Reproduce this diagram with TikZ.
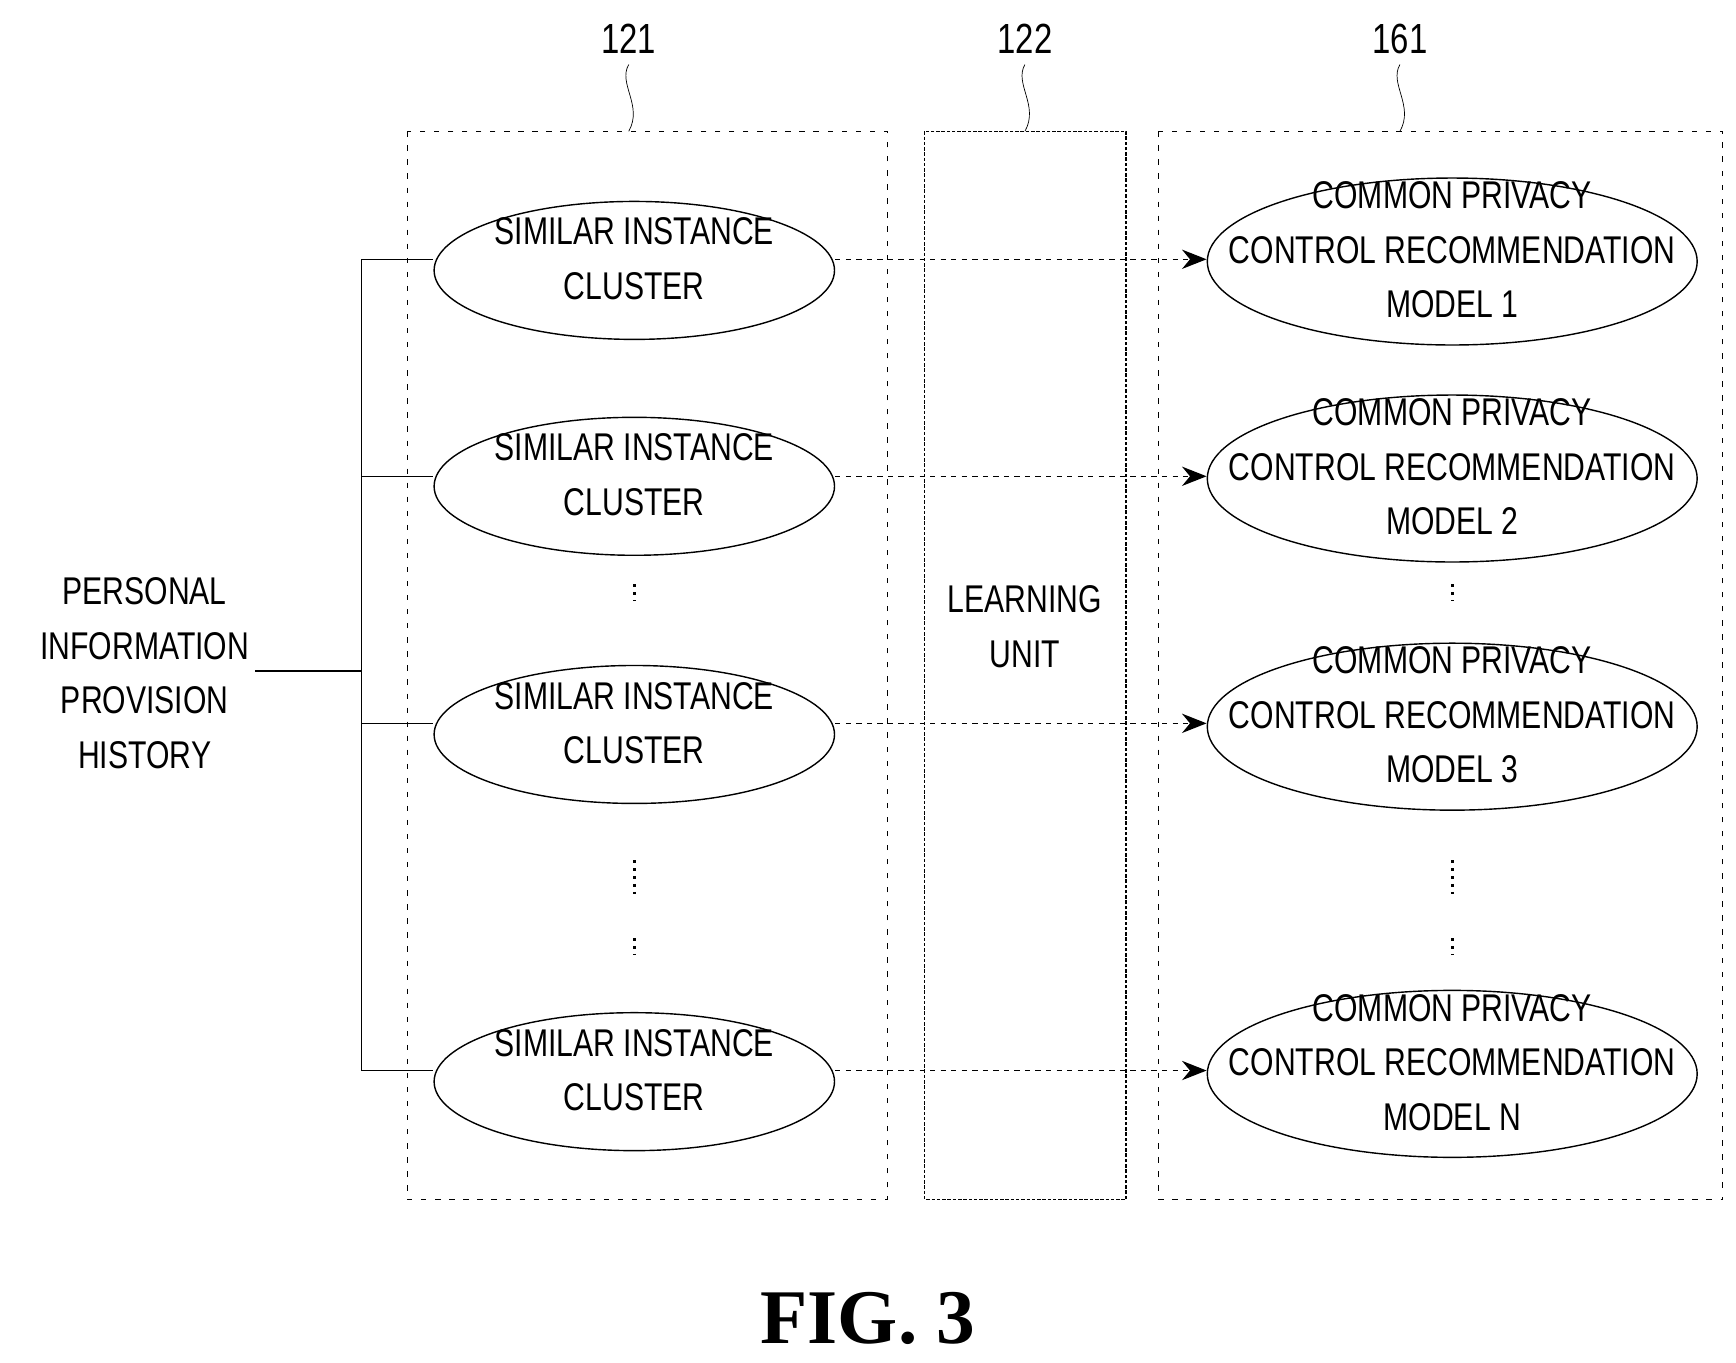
\documentclass[tikz,border=0pt]{standalone}
\usepackage{fontspec}
\setmainfont{Liberation Sans}[FakeStretch=0.78]
\newfontfamily\figfont{Liberation Serif}
\usetikzlibrary{arrows.meta,shapes.geometric}
\newcommand{\etext}[1]{\makebox[0pt]{\smash{\begin{tabular}{@{}c@{}}#1\end{tabular}}}}
\tikzset{
  clus/.style={draw, ellipse, thick, inner sep=0pt, minimum width=8.01cm, minimum height=2.76cm, font=\fontsize{22}{31}\selectfont},
  mdl/.style={draw, ellipse, thick, inner sep=0pt, minimum width=9.8cm, minimum height=3.34cm, font=\fontsize{22}{31}\selectfont},
  box/.style={draw, dashed, dash pattern=on 3pt off 5pt},
  lbl/.style={font=\fontsize{24}{28}\selectfont},
  vdots/.style={line width=1.5pt, dash pattern=on 1.5pt off 3pt}
}
\begin{document}
\begin{tikzpicture}[x=0.02226cm,y=-0.02226cm]
        \useasboundingbox (0,0) rectangle (1560,1224);

        \draw [box] (366,118) rectangle (797,1078);
        \draw [thick, dash pattern=on 2pt off 1pt] (831,118) rectangle (1012,1078);
        \draw [box] (1041,118) rectangle (1548,1078);

        \node[lbl] (l121) at (565,35) {121};
        \node[lbl] (l122) at (921,35) {122};
        \node[lbl] (l161) at (1258,35) {161};
        \draw (565,58) .. controls (555,75) and (578,95) .. (565,118);
        \draw (921,58) .. controls (911,75) and (934,95) .. (921,118);
        \draw (1258,58) .. controls (1248,75) and (1271,95) .. (1258,118);

        \node[align=center, font=\fontsize{22}{31}\selectfont] (hist) at (130,605) {PERSONAL\\INFORMATION\\PROVISION\\HISTORY};
        \node[align=center, font=\fontsize{22}{31}\selectfont] (learn) at (921,563) {LEARNING\\UNIT};

        \node[clus] (s1) at (570,243) {\etext{SIMILAR INSTANCE\\CLUSTER}};
        \node[clus] (s2) at (570,437) {\etext{SIMILAR INSTANCE\\CLUSTER}};
        \node[clus] (s3) at (570,660) {\etext{SIMILAR INSTANCE\\CLUSTER}};
        \node[clus] (s4) at (570,972) {\etext{SIMILAR INSTANCE\\CLUSTER}};

        \node[mdl] (m1) at (1305,235) {\etext{COMMON PRIVACY\\CONTROL RECOMMENDATION\\MODEL 1}};
        \node[mdl] (m2) at (1305,430) {\etext{COMMON PRIVACY\\CONTROL RECOMMENDATION\\MODEL 2}};
        \node[mdl] (m3) at (1305,653) {\etext{COMMON PRIVACY\\CONTROL RECOMMENDATION\\MODEL 3}};
        \node[mdl] (m4) at (1305,965) {\etext{COMMON PRIVACY\\CONTROL RECOMMENDATION\\MODEL N}};

        \coordinate (j) at (325,603);
        \draw[thick] (hist.east |- j) -- (j);
        \draw[thick] (325,233) -- (325,962);
        \foreach \i/\y in {1/233,2/428,3/650,4/962} {
          \draw[thick] (325,\y) -- (s\i.west |- 0,\y);
          \draw[thick, dashed, -{Stealth[length=14pt,width=11pt]}] (s\i.east |- 0,\y) -- (m\i.west |- 0,\y);
        }

        \foreach \x in {570,1305} {
          \draw[vdots] (\x,525) -- (\x,540);
          \draw[vdots] (\x,773) -- (\x,808);
          \draw[vdots] (\x,843) -- (\x,858);
        }

        \node[font=\figfont\bfseries\fontsize{44}{50}\selectfont] (fig) at (780,1185) {FIG. 3};
    \end{tikzpicture}
\end{document}
